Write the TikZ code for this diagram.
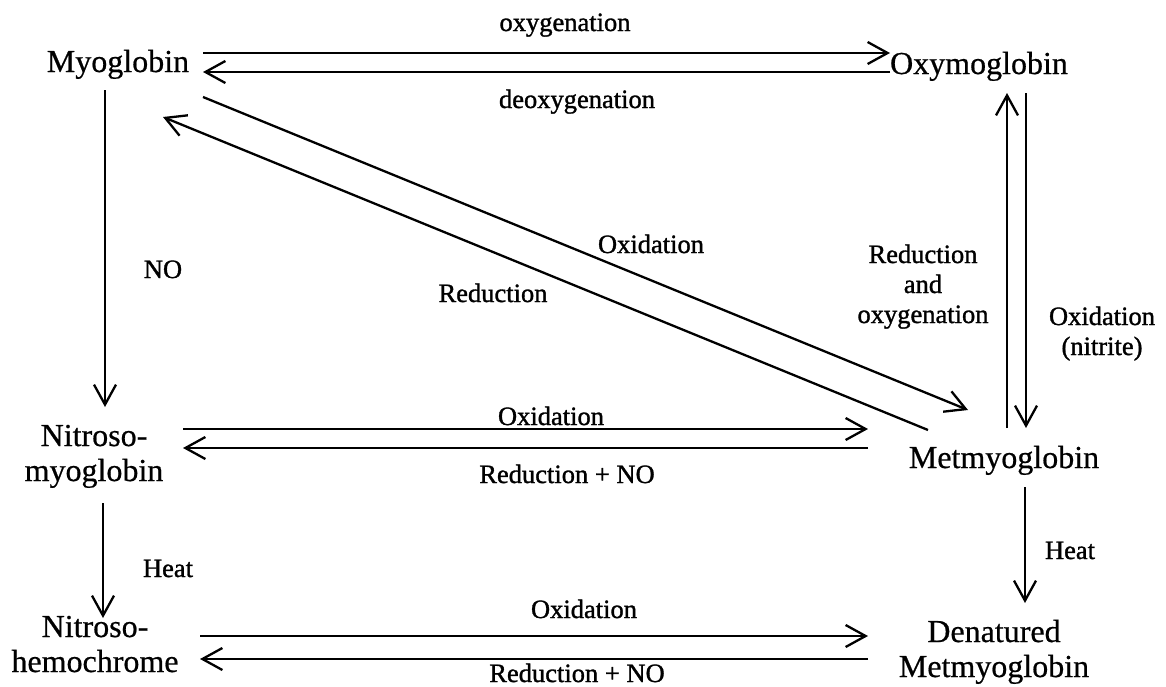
\documentclass[tikz,border=0pt]{standalone}
\usepackage{fontspec}
\setmainfont{Liberation Serif}[FakeBold=0.6]
\newfontfamily\lblfont{Liberation Serif}[FakeBold=1.2]
\usetikzlibrary{arrows.meta}
\begin{document}
\begin{tikzpicture}[x=1pt,y=-1pt,
  species/.style={inner sep=0pt, anchor=base, font=\fontsize{32}{35}\selectfont},
  lbl/.style={inner sep=0pt, anchor=base, font=\lblfont\fontsize{26.5}{30}\selectfont},
  rx/.style={line width=2.3pt, -{Straight Barb[length=20pt,width=22pt]}}
]
\useasboundingbox (0,0) rectangle (1166,686);
% species
\node[species] (myo) at (118,72) {Myoglobin};
\node[species] (oxy) at (979,74) {Oxymoglobin};
\node[species] (met) at (1004,468) {Metmyoglobin};
\node[species] (nmb) at (94,446) {\begin{tabular}[t]{@{}c@{}}Nitroso-\\myoglobin\end{tabular}};
\node[species] (nhc) at (95,637) {\begin{tabular}[t]{@{}c@{}}Nitroso-\\hemochrome\end{tabular}};
\node[species] (den) at (994,642) {\begin{tabular}[t]{@{}c@{}}Denatured\\Metmyoglobin\end{tabular}};
% labels
\node[lbl] (l1) at (565,31) {oxygenation};
\node[lbl] (l2) at (577,108) {deoxygenation};
\node[lbl] (l3) at (651,253) {Oxidation};
\node[lbl] (l4) at (493,302) {Reduction};
\node[lbl] (l5) at (163,278) {NO};
\node[lbl] (l6) at (923,263) {\begin{tabular}[t]{@{}c@{}}Reduction\\and\\oxygenation\end{tabular}};
\node[lbl] (l7) at (1102,325) {\begin{tabular}[t]{@{}c@{}}Oxidation\\(nitrite)\end{tabular}};
\node[lbl] (l8) at (551,425) {Oxidation};
\node[lbl] (l9) at (567,483) {Reduction + NO};
\node[lbl] (l10) at (168,577) {Heat};
\node[lbl] (l11) at (1070,559) {Heat};
\node[lbl] (l12) at (584,618) {Oxidation};
\node[lbl] (l13) at (577,682) {Reduction + NO};
% connector end points
\coordinate (myoA) at (203,53);  \coordinate (oxyA) at (890,53);
\coordinate (oxyB) at (890,72);  \coordinate (myoB) at (203,72);
\coordinate (myoC) at (105,90);  \coordinate (nmbC) at (105,407);
\coordinate (myoD) at (203,97);  \coordinate (metD) at (968,410);
\coordinate (metE) at (928,430); \coordinate (myoE) at (163,117);
\coordinate (metF) at (1007,428); \coordinate (oxyF) at (1007,93);
\coordinate (oxyG) at (1026,93); \coordinate (metG) at (1026,428);
\coordinate (nmbH) at (183,429); \coordinate (metH) at (868,429);
\coordinate (metI) at (868,448); \coordinate (nmbI) at (183,448);
\coordinate (nmbJ) at (103,503); \coordinate (nhcJ) at (103,618);
\coordinate (metK) at (1025,487); \coordinate (denK) at (1025,603);
\coordinate (nhcL) at (200,636); \coordinate (denL) at (868,636);
\coordinate (denM) at (868,659); \coordinate (nhcM) at (200,659);
% connectors
\draw[rx] (myoA) -- (oxyA);
\draw[rx] (oxyB) -- (myoB);
\draw[rx] (myoC) -- (nmbC);
\draw[rx] (myoD) -- (metD);
\draw[rx] (metE) -- (myoE);
\draw[rx] (metF) -- (oxyF);
\draw[rx] (oxyG) -- (metG);
\draw[rx] (nmbH) -- (metH);
\draw[rx] (metI) -- (nmbI);
\draw[rx] (nmbJ) -- (nhcJ);
\draw[rx] (metK) -- (denK);
\draw[rx] (nhcL) -- (denL);
\draw[rx] (denM) -- (nhcM);
\end{tikzpicture}
\end{document}
